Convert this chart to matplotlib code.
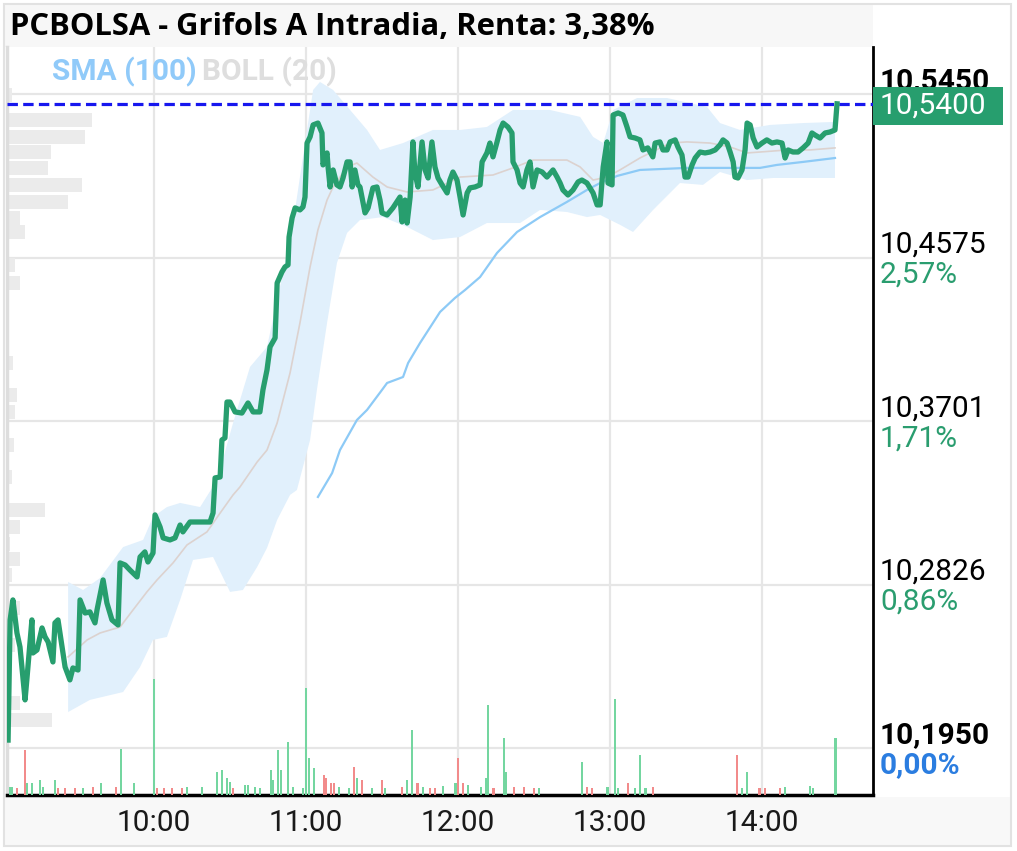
import numpy as np
import matplotlib.pyplot as plt
import matplotlib.transforms as mtransforms
from matplotlib.patches import Rectangle

plt.rcParams['font.family'] = ['Roboto', 'DejaVu Sans']
plt.rcParams['lines.scale_dashes'] = False

W, H = 1017, 851

# minutes since 09:00 and traded price
t_price = [2.4, 3.2, 4.3, 5.9, 7.1, 9.1, 9.9, 11.8, 12.2, 13.8,
           15.8, 17.0, 18.2, 20.1, 20.9, 22.1, 23.7, 24.9, 26.8, 28.0,
           30.0, 30.8, 32.8, 34.7, 36.7, 37.5, 39.9, 41.4, 43.4, 45.8,
           46.6, 48.6, 50.5, 53.3, 54.5, 56.4, 57.6, 59.6, 60.4, 62.4,
           63.6, 66.3, 68.3, 70.3, 71.4, 74.2, 78.2, 82.1, 83.3, 84.1,
           86.1, 86.8, 88.0, 88.8, 90.0, 92.0, 94.7, 97.1, 99.1, 101.8,
           103.0, 104.6, 105.8, 107.8, 108.6, 110.5, 111.7, 112.9, 113.3, 114.5,
           115.7, 117.6, 118.8, 119.6, 120.4, 121.6, 122.8, 124.7, 126.3, 126.7,
           128.3, 128.7, 129.5, 130.7, 132.2, 133.4, 134.6, 136.2, 137.4, 138.2,
           139.3, 140.5, 141.3, 143.3, 144.5, 146.4, 148.0, 149.2, 150.0, 152.0,
           154.3, 157.1, 157.9, 159.1, 159.9, 161.1, 162.2, 163.0, 164.2, 165.8,
           167.0, 168.2, 169.7, 170.9, 172.1, 173.7, 175.7, 176.8, 178.0, 179.6,
           180.8, 182.0, 183.6, 184.7, 186.7, 188.7, 189.5, 191.4, 192.6, 193.8,
           195.4, 196.6, 197.8, 199.7, 201.3, 201.7, 203.3, 204.5, 205.7, 207.2,
           208.4, 209.6, 211.2, 213.2, 215.1, 217.5, 219.1, 220.3, 221.4, 223.4,
           225.4, 227.4, 228.9, 230.9, 232.1, 233.3, 234.9, 236.1, 237.3, 238.8,
           239.2, 240.8, 241.2, 243.2, 245.1, 246.7, 247.9, 249.9, 251.8, 253.0,
           254.9, 256.9, 257.8, 259.7, 260.9, 262.5, 263.7, 265.7, 266.8, 268.4,
           269.6, 270.8, 272.4, 273.6, 275.5, 277.5, 279.5, 281.5, 283.4, 284.6,
           286.2, 287.4, 288.6, 289.3, 290.5, 292.1, 293.3, 294.1, 295.3, 296.5,
           298.0, 300.0, 301.9, 303.9, 305.9, 307.9, 309.1, 310.3, 312.2, 314.2,
           316.2, 318.2, 319.7, 320.9, 322.9, 324.9, 326.8, 328.8, 329.6]
price = [10.1995, 10.2638, 10.2745, 10.2568, 10.2493, 10.2210, 10.2333, 10.2638, 10.2461, 10.2477,
         10.2595, 10.2547, 10.2520, 10.2413, 10.2622, 10.2638, 10.2493, 10.2386, 10.2317, 10.2381,
         10.2370, 10.2745, 10.2675, 10.2681, 10.2622, 10.2691, 10.2852, 10.2729, 10.2638, 10.2611,
         10.2943, 10.2932, 10.2905, 10.2868, 10.2975, 10.3002, 10.2948, 10.2996, 10.3200, 10.3135,
         10.3077, 10.3066, 10.3077, 10.3146, 10.3109, 10.3162, 10.3162, 10.3162, 10.3210, 10.3398,
         10.3403, 10.3601, 10.3612, 10.3804, 10.3804, 10.3751, 10.3745, 10.3799, 10.3751, 10.3751,
         10.3869, 10.3976, 10.4099, 10.4147, 10.4441, 10.4500, 10.4527, 10.4538, 10.4687, 10.4789,
         10.4843, 10.4832, 10.4848, 10.4901, 10.5190, 10.5223, 10.5287, 10.5297, 10.5244, 10.5073,
         10.5137, 10.5062, 10.4955, 10.5046, 10.4966, 10.4955, 10.5003, 10.5089, 10.5089, 10.4955,
         10.5046, 10.4966, 10.4955, 10.4816, 10.4843, 10.4950, 10.4955, 10.4885, 10.4816, 10.4805,
         10.4843, 10.4901, 10.4768, 10.4885, 10.4762, 10.4901, 10.5196, 10.5030, 10.4955, 10.5196,
         10.5046, 10.5003, 10.5196, 10.5062, 10.5003, 10.4966, 10.4923, 10.4992, 10.5035, 10.4992,
         10.4901, 10.4805, 10.4923, 10.4950, 10.4955, 10.4966, 10.5089, 10.5137, 10.5190, 10.5116,
         10.5196, 10.5260, 10.5297, 10.5276, 10.5244, 10.5089, 10.5046, 10.4976, 10.4955, 10.5046,
         10.5089, 10.4955, 10.5046, 10.5035, 10.5008, 10.5046, 10.5008, 10.4976, 10.4939, 10.4912,
         10.4939, 10.4982, 10.4992, 10.4976, 10.4950, 10.4923, 10.4859, 10.4859, 10.5062, 10.5196,
         10.4976, 10.4966, 10.5340, 10.5351, 10.5340, 10.5276, 10.5223, 10.5217, 10.5207, 10.5153,
         10.5164, 10.5116, 10.5190, 10.5196, 10.5153, 10.5153, 10.5196, 10.5207, 10.5169, 10.5126,
         10.5008, 10.5008, 10.5073, 10.5110, 10.5142, 10.5137, 10.5142, 10.5153, 10.5180, 10.5207,
         10.5190, 10.5142, 10.5089, 10.5008, 10.5003, 10.5046, 10.5153, 10.5297, 10.5287, 10.5217,
         10.5169, 10.5190, 10.5207, 10.5190, 10.5196, 10.5190, 10.5110, 10.5153, 10.5142, 10.5142,
         10.5164, 10.5190, 10.5244, 10.5233, 10.5217, 10.5244, 10.5249, 10.5260, 10.5400]

# SMA(100)
t_sma = [124.7, 130.3, 133.4, 140.1, 144.1, 150.0, 152.0, 158.3, 160.3, 165.0,
         172.9, 178.8, 182.8, 188.7, 195.4, 203.3, 212.4, 223.0, 230.9, 236.1,
         242.8, 251.8, 270.4, 283.4, 299.2, 305.9, 316.2, 328.8]
sma = [10.3296, 10.3424, 10.3547, 10.3708, 10.3762, 10.3869, 10.3906, 10.3938, 10.4013, 10.4120,
       10.4286, 10.4361, 10.4404, 10.4473, 10.4602, 10.4714, 10.4794, 10.4875, 10.4939, 10.4976,
       10.5014, 10.5046, 10.5057, 10.5057, 10.5057, 10.5073, 10.5089, 10.5110]

# BOLL(20) middle, upper and lower bands
t_mid = [26.1, 33.6, 38.7, 46.6, 51.7, 57.2, 61.2, 67.5, 73.0, 80.9,
         86.1, 91.2, 93.9, 100.7, 104.6, 108.6, 113.7, 117.6, 121.6, 124.7,
         128.3, 130.7, 136.2, 140.1, 146.4, 152.0, 159.9, 170.1, 180.8, 193.8,
         201.7, 209.6, 223.0, 228.2, 233.3, 238.8, 243.9, 251.8, 263.7, 270.4,
         279.5, 287.4, 294.1, 299.2, 309.9, 318.9, 328.8]
mid = [10.2440, 10.2531, 10.2568, 10.2600, 10.2691, 10.2788, 10.2852, 10.2943, 10.3039, 10.3109,
       10.3210, 10.3307, 10.3349, 10.3483, 10.3547, 10.3692, 10.3960, 10.4227, 10.4527, 10.4725,
       10.4885, 10.4955, 10.5062, 10.5083, 10.5008, 10.4955, 10.4928, 10.4939, 10.5008, 10.5019,
       10.5057, 10.5099, 10.5099, 10.5062, 10.4992, 10.5008, 10.5046, 10.5110, 10.5190, 10.5196,
       10.5190, 10.5169, 10.5137, 10.5142, 10.5153, 10.5153, 10.5164]

t_up = [26.1, 32.0, 38.7, 47.8, 55.7, 59.6, 65.1, 70.3, 78.2, 84.9,
        91.2, 97.9, 104.6, 110.9, 114.9, 117.6, 120.4, 122.8, 125.5, 130.7,
        137.4, 144.1, 149.2, 158.3, 170.1, 180.8, 191.4, 201.7, 216.3, 228.2,
        233.3, 237.3, 241.2, 250.7, 262.5, 278.3, 283.4, 291.3, 303.2, 316.2, 328.8]
upper = [10.2841, 10.2798, 10.2862, 10.3028, 10.3066, 10.3189, 10.3242, 10.3264, 10.3242, 10.3387,
         10.3692, 10.3992, 10.4099, 10.4495, 10.4762, 10.5008, 10.5260, 10.5474, 10.5517, 10.5474,
         10.5367, 10.5260, 10.5153, 10.5190, 10.5260, 10.5260, 10.5276, 10.5367, 10.5367, 10.5330,
         10.5223, 10.5190, 10.5367, 10.5431, 10.5431, 10.5383, 10.5297, 10.5260, 10.5287, 10.5297, 10.5303]

t_lo = [26.1, 34.7, 47.8, 54.5, 59.6, 65.1, 70.3, 75.4, 83.3, 90.0,
        95.1, 100.7, 104.6, 108.6, 113.7, 116.4, 121.6, 124.3, 128.3, 132.2,
        136.2, 141.3, 150.4, 159.9, 170.1, 180.8, 191.4, 204.5, 212.4, 223.0,
        230.9, 236.1, 244.0, 249.1, 257.0, 267.6, 276.7, 283.4, 294.1, 304.4, 328.8]
lower = [10.2145, 10.2210, 10.2252, 10.2386, 10.2531, 10.2547, 10.2745, 10.2959, 10.2975, 10.2788,
         10.2798, 10.2921, 10.3023, 10.3173, 10.3307, 10.3333, 10.3601, 10.3869, 10.4227, 10.4548,
         10.4709, 10.4778, 10.4794, 10.4741, 10.4671, 10.4687, 10.4762, 10.4762, 10.4832, 10.4821,
         10.4794, 10.4805, 10.4752, 10.4714, 10.4832, 10.4976, 10.4966, 10.5035, 10.4992, 10.5003, 10.5003]

# volume per minute (shares), rising and falling trades
t_vol_up = [3, 4, 10, 12, 15, 16, 21, 32, 39, 47,
            52, 60, 73, 79, 85, 87, 89, 90, 96, 97,
            100, 102, 106, 107, 109, 110, 113, 115, 119, 120,
            121, 123, 133, 137, 140, 146, 151, 160, 162, 166,
            174, 179, 184, 189, 191, 192, 198, 199, 212, 229,
            239, 242, 243, 250, 252, 254, 292, 294, 309, 319,
            320, 329]
vol_up = [2000, 2000, 3000, 3000, 3750, 2000, 3750, 1750, 3000, 11500,
          3000, 29000, 2000, 2000, 5750, 6250, 4250, 3250, 2500, 2500,
          2000, 1750, 6250, 3750, 11250, 6250, 13250, 2000, 1750, 26750,
          9250, 6750, 2000, 1750, 4250, 1750, 1750, 3750, 16250, 2000,
          2250, 3000, 2500, 2000, 4250, 22500, 14250, 5750, 1750, 8250,
          2000, 24000, 1750, 1750, 10000, 1750, 1750, 5750, 2000, 2250,
          1750, 14250]
t_vol_dn = [6, 9, 22, 25, 29, 36, 45, 61, 64, 67,
            71, 91, 127, 128, 130, 131, 139, 142, 150, 158,
            164, 169, 171, 180, 182, 194, 202, 206, 210, 231,
            233, 247, 257, 290, 299, 301, 307]
vol_dn = [1750, 11250, 1750, 1750, 1750, 2000, 2000, 1750, 1750, 1750,
          1750, 1750, 5000, 4250, 3000, 3000, 7000, 3750, 3750, 2000,
          3000, 1750, 1750, 9250, 3000, 1750, 2000, 2000, 1750, 2000,
          1750, 3000, 2000, 10000, 1750, 1750, 1750]

# volume profile by price level
prof_price = [10.5447, 10.5313, 10.5222, 10.5142, 10.5057, 10.4966, 10.4875, 10.4789, 10.4714, 10.4538,
              10.4441, 10.4190, 10.4013, 10.3842, 10.3751, 10.3574, 10.3403, 10.3226, 10.3135, 10.3044,
              10.2964, 10.2879, 10.2702, 10.2504, 10.2193, 10.2102]
prof_vol = [5, 85, 78, 44, 41, 75, 61, 13, 18, 8,
            13, 2, 6, 10, 8, 7, 5, 38, 13, 3,
            13, 5, 13, 8, 13, 45]

last_price = 10.54
level_prices = [10.5450, 10.4575, 10.3701, 10.2826, 10.1950]
level_labels = ['10,5450', '10,4575', '10,3701', '10,2826', '10,1950']
pct_labels = ['', '2,57%', '1,71%', '0,86%', '0,00%']
hour_t = [60, 120, 180, 240, 300]
hour_labels = ['10:00', '11:00', '12:00', '13:00', '14:00']

green = '#279e6e'

fig = plt.figure(figsize=(W / 100, H / 100), dpi=100)
fig.patch.set_facecolor('white')

# title band and time axis band
fig.add_artist(Rectangle((5 / W, 1 - 47 / H), 868 / W, 42 / H, transform=fig.transFigure,
                         fc='#f7f7f7', ec='none', zorder=-1))
fig.add_artist(Rectangle((5 / W, 6 / H), 1005 / W, 48 / H, transform=fig.transFigure,
                         fc='#f8f8f8', ec='none', zorder=-1))
fig.add_artist(Rectangle((4 / W, 5 / H), 1007 / W, 842 / H, transform=fig.transFigure,
                         fill=False, ec='#e2e2e2', lw=1.5, zorder=10))

ax = fig.add_axes([7 / W, 56 / H, 866 / W, 748 / H])
ax.set_xlim(1.97, 343.8)
ax.set_ylim(10.1701, 10.5704)

ax.set_xticks(hour_t)
ax.set_xticklabels(hour_labels)
ax.set_yticks(level_prices)
ax.tick_params(axis='y', length=0, labelleft=False)
ax.tick_params(axis='x', length=0, labelsize=21.5, pad=10, colors='#1a1a1a')
ax.grid(color='#e6e6e6', lw=1.6)
ax.set_axisbelow(True)

ax.spines['top'].set_visible(False)
ax.spines['left'].set_color('#dddddd')
ax.spines['left'].set_linewidth(2.5)
ax.spines['right'].set_color('black')
ax.spines['right'].set_linewidth(2)
ax.spines['bottom'].set_color('black')
ax.spines['bottom'].set_linewidth(2.5)

# volume profile
prof_len = np.array(prof_vol) / max(prof_vol) * 33.5
ax.barh(prof_price, prof_len, height=0.0075, left=1.97, color='#ebebeb', zorder=0.6)

# bollinger band
ax.fill(np.r_[t_up, t_lo[::-1]], np.r_[upper, lower[::-1]], color='#e1f0fc', lw=0, zorder=1)
ax.plot(t_mid, mid, color='#dcd2cf', lw=1.2, zorder=2)
ax.plot(t_sma, sma, color='#8dcaf6', lw=1.6, zorder=2.5)
ax.axhline(last_price, color='#1717ee', lw=2.3, dashes=(7.5, 3.8), zorder=3)
ax.plot(t_price, price, color=green, lw=3.8, solid_joinstyle='round', zorder=4)

# volume bars
ax2 = ax.twinx()
ax2.set_ylim(0, 187000)
ax2.set_axis_off()
ax2.bar(t_vol_up, vol_up, width=0.8, color='#74d6a0', lw=0)
ax2.bar(t_vol_dn, vol_dn, width=0.8, color='#f28b8b', lw=0)

# right side price and percentage labels
blend = mtransforms.blended_transform_factory(ax.transAxes, ax.transData)
for i, lvl in enumerate(level_prices):
    bold = i in (0, len(level_prices) - 1)
    tr_up = mtransforms.offset_copy(blend, fig=fig, x=7, y=5, units='dots')
    ax.text(1, lvl, level_labels[i], transform=tr_up, va='baseline', ha='left', fontsize=21.5,
            fontweight='bold' if bold else 'normal', color='black', clip_on=False, zorder=3)
    if pct_labels[i]:
        tr_dn = mtransforms.offset_copy(blend, fig=fig, x=7, y=-25, units='dots')
        ax.text(1, lvl, pct_labels[i], transform=tr_dn, va='baseline', ha='left', fontsize=21.5,
                fontweight='bold' if bold else 'normal',
                color='#2b7de0' if bold else '#2a9d6f', clip_on=False, zorder=3)

# last price tag
ax.add_patch(Rectangle((1, last_price - 0.0114), 130 / 866, 0.0204, transform=blend,
                       fc=green, ec='none', clip_on=False, zorder=6))
tr_tag = mtransforms.offset_copy(blend, fig=fig, x=7, y=0, units='dots')
ax.text(1, last_price - 0.0012, '10,5400', transform=tr_tag, va='center', ha='left',
        fontsize=21.5, color='white', clip_on=False, zorder=7)

fig.text(52 / W, 1 - 72 / H, 'SMA (100)', color='#90caf9', fontsize=21.5, fontweight='bold', va='center')
fig.text(202 / W, 1 - 72 / H, 'BOLL (20)', color='#dedede', fontsize=21.5, fontweight='bold', va='center')
fig.text(10 / W, 1 - 27 / H, 'PCBOLSA - Grifols A Intradia, Renta: 3,38%', fontsize=22.3,
         fontweight='bold', family=['Open Sans', 'DejaVu Sans'], va='center', color='black')

fig.savefig('out.png', dpi=100)
